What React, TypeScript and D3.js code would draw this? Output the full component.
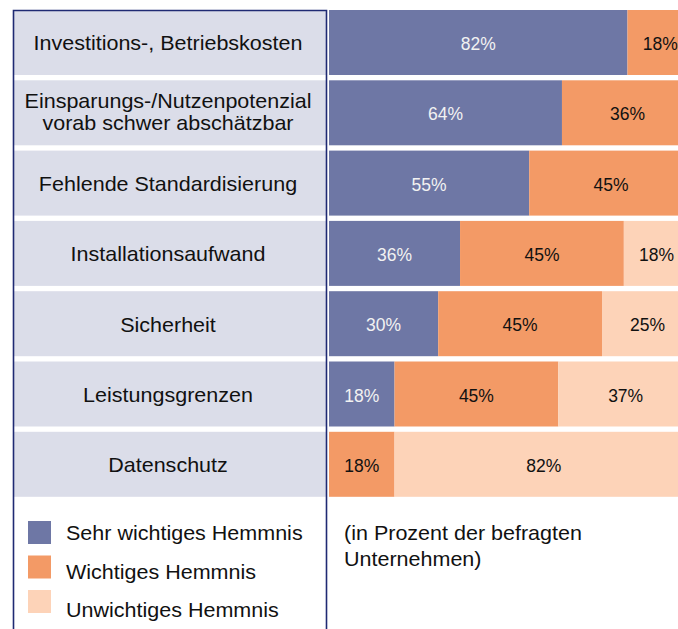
import React from "react";
import * as d3 from "d3";

const categories: string[][] = [
  ["Investitions-, Betriebskosten"],
  ["Einsparungs-/Nutzenpotenzial", "vorab schwer abschätzbar"],
  ["Fehlende Standardisierung"],
  ["Installationsaufwand"],
  ["Sicherheit"],
  ["Leistungsgrenzen"],
  ["Datenschutz"],
];
const sehrWichtig = [82, 64, 55, 36, 30, 18, 0];
const wichtig = [18, 36, 45, 45, 45, 45, 18];
const unwichtig = [0, 0, 0, 18, 25, 37, 82];
const seriesNames = ["Sehr wichtiges Hemmnis", "Wichtiges Hemmnis", "Unwichtiges Hemmnis"];
const seriesColors = ["#6e77a5", "#f39a66", "#fdd3b8"];
const labelColors = ["#f2f2f2", "#111111", "#111111"];
const note = ["(in Prozent der befragten", "Unternehmen)"];

const W = 678;
const H = 629;
const FONT = "Liberation Sans, Arial, sans-serif";
const STRETCH = 1.05;
const FS = 20.5;

export default function App() {
  const keys = categories.map((c) => c.join(" "));
  const y = d3.scaleBand<string>().domain(keys).range([10, 496.8]).paddingInner(0.0754).paddingOuter(0);
  const x = d3.scaleLinear().domain([0, 100]).range([329, 693]);
  const rows = keys.map((k, i) => ({ key: k, s0: sehrWichtig[i], s1: wichtig[i], s2: unwichtig[i] }));
  const stack = d3.stack<any>().keys(["s0", "s1", "s2"])(rows);
  const legendY = d3.scalePoint<string>().domain(seriesNames).range([532.5, 601.5]);
  const legendText = d3.scalePoint<string>().domain(seriesNames).range([540, 617]);

  return (
    <svg width={W} height={H} style={{ position: "absolute", left: 0, top: 0 }} fontFamily={FONT}>
      <rect x={0} y={0} width={W} height={H} fill="#ffffff" />
      {keys.map((k, i) => (
        <g key={k}>
          <rect x={14} y={y(k)!} width={313} height={y.bandwidth()} fill="#dbdde9" />
          {categories[i].map((line, j) => {
            const n = categories[i].length;
            const cy = y(k)! + y.bandwidth() / 2;
            const base = n === 1 ? cy + 8 : cy + 6.5 + (j - (n - 1) / 2) * 22;
            return (
              <text
                key={j}
                transform={`translate(168,${base}) scale(${STRETCH},1)`}
                textAnchor="middle"
                fontSize={FS}
                fill="#111"
              >
                {line}
              </text>
            );
          })}
        </g>
      ))}
      <path d={`M13.5,${H + 2}V10.5H326.5V${H + 2}`} fill="none" stroke="#1f2a73" strokeWidth={1.6} />
      {stack.map((layer, si) => (
        <g key={si}>
          {layer.map((d, i) => {
            const v = d[1] - d[0];
            if (v <= 0) return null;
            const x0 = x(d[0]);
            const x1 = x(d[1]);
            const yy = y(keys[i])!;
            return (
              <g key={i}>
                <rect x={x0} y={yy} width={x1 - x0} height={y.bandwidth()} fill={seriesColors[si]} />
                <text
                  x={(x0 + x1) / 2}
                  y={yy + y.bandwidth() / 2 + 7.5}
                  textAnchor="middle"
                  fontSize={17.5}
                  fill={labelColors[si]}
                >
                  {`${v}%`}
                </text>
              </g>
            );
          })}
        </g>
      ))}
      {seriesNames.map((s, i) => (
        <g key={s}>
          <rect x={28} y={legendY(s)! - 11.5} width={23} height={23} fill={seriesColors[i]} />
          <text transform={`translate(66,${legendText(s)!}) scale(${STRETCH},1)`} fontSize={FS} fill="#111">
            {s}
          </text>
        </g>
      ))}
      {note.map((t, i) => (
        <text key={i} transform={`translate(344,${540 + i * 26}) scale(${STRETCH},1)`} fontSize={FS} fill="#111">
          {t}
        </text>
      ))}
    </svg>
  );
}
